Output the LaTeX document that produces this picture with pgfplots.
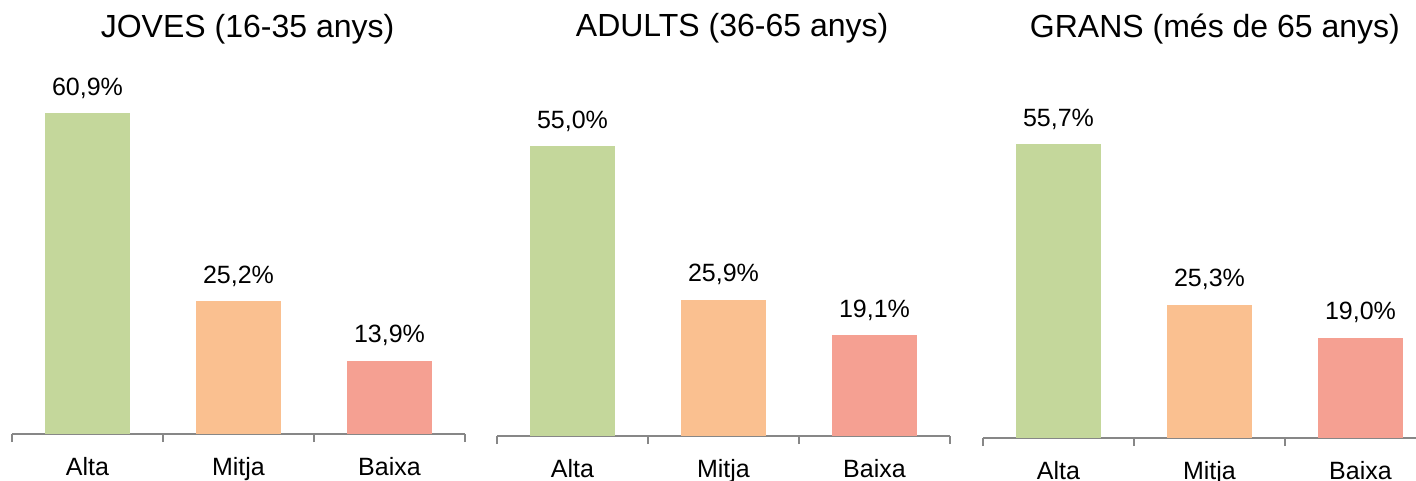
\documentclass[border=0pt]{standalone}
\usepackage{pgfplots}
\pgfplotsset{compat=1.18}
\usepackage{fontspec}
\setmainfont{Liberation Sans}
\definecolor{cAlta}{HTML}{C4D79B}
\definecolor{cMitja}{HTML}{FAC090}
\definecolor{cBaixa}{HTML}{F5A092}
\definecolor{axgray}{HTML}{878787}
\pgfplotsset{
 panel/.style={
  scale only axis, x=151pt, y=5.27pt, xmin=-0.5, xmax=2.5, ymin=0, ymax=70,
  axis x line=bottom, axis y line=none,
  axis line style={-, draw=axgray, line width=2pt},
  xtick={-0.5,0.5,1.5,2.5}, xticklabels={}, xtick align=outside, major tick length=8pt,
  tick style={draw=axgray, line width=2pt},
  extra x ticks={0,1,2}, extra x tick labels={Alta,Mitja,Baixa},
  extra x tick style={major tick length=0pt, tick style={draw=none},
    xticklabel style={font=\fontsize{25}{30}\selectfont, text height=18pt, text depth=0pt, inner sep=0pt, anchor=north, yshift=-23pt}},
  ybar, bar width=85pt, bar shift=0pt, clip=false,
  point meta=explicit symbolic,
  nodes near coords,
  nodes near coords style={font=\fontsize{25}{30}\selectfont, anchor=base, yshift=18pt, inner sep=0pt, text=black},
  every axis plot/.append style={draw=none},
 }
}
\begin{document}
\begin{tikzpicture}
\useasboundingbox (0,0) rectangle (1416pt,480pt);
% Panel 1
\begin{axis}[panel, at={(12pt,46pt)}, anchor=south west]
\addplot[fill=cAlta] coordinates {(0,60.9) [{60,9\%}]};
\addplot[fill=cMitja] coordinates {(1,25.2) [{25,2\%}]};
\addplot[fill=cBaixa] coordinates {(2,13.9) [{13,9\%}]};
\node[font=\fontsize{32}{38}\selectfont, anchor=base] at (rel axis cs:0.52,1.076) {JOVES (16-35 anys)};
\end{axis}
% Panel 2
\begin{axis}[panel, at={(497pt,44pt)}, anchor=south west]
\addplot[fill=cAlta] coordinates {(0,55.0) [{55,0\%}]};
\addplot[fill=cMitja] coordinates {(1,25.9) [{25,9\%}]};
\addplot[fill=cBaixa] coordinates {(2,19.1) [{19,1\%}]};
\node[font=\fontsize{32}{38}\selectfont, anchor=base] at (rel axis cs:0.519,1.0816) {ADULTS (36-65 anys)};
\end{axis}
% Panel 3
\begin{axis}[panel, at={(983pt,42pt)}, anchor=south west]
\addplot[fill=cAlta] coordinates {(0,55.7) [{55,7\%}]};
\addplot[fill=cMitja] coordinates {(1,25.3) [{25,3\%}]};
\addplot[fill=cBaixa] coordinates {(2,19.0) [{19,0\%}]};
\node[font=\fontsize{32}{38}\selectfont, anchor=base] at (rel axis cs:0.512,1.087) {GRANS (més de 65 anys)};
\end{axis}
\end{tikzpicture}
\end{document}
